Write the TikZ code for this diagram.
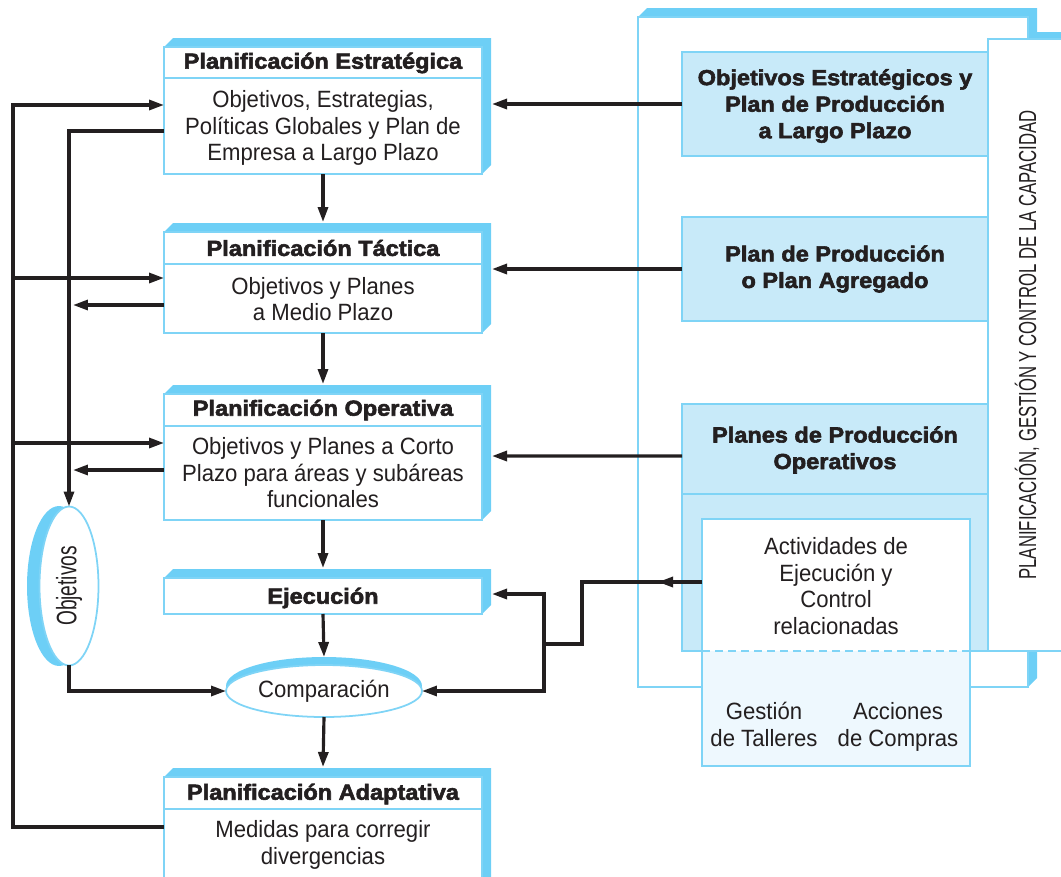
\documentclass[tikz,border=0pt]{standalone}
\usepackage{fontspec}
\setmainfont[FakeStretch=0.94]{Liberation Sans}
\newfontfamily\negrita[FakeStretch=1.08,BoldFeatures={FakeBold=2.6}]{Liberation Sans}
\newfontfamily\estrecha[FakeStretch=0.68]{Liberation Sans}
\usetikzlibrary{arrows.meta}
\usetikzlibrary{calc, fit, backgrounds}
\usetikzlibrary{shapes.geometric}
\definecolor{celeste}{HTML}{6DCFF6}
\definecolor{borde}{HTML}{7FD4F6}
\definecolor{relleno}{HTML}{C8EAF9}
\definecolor{palido}{HTML}{EEF8FE}
\definecolor{tinta}{HTML}{231F20}

% cara azul de las cajas en relieve
\newcommand{\relieve}[1]{%
	\fill[celeste] (#1.north west) -- ++(9,-9) -- ([shift={(9,-9)}]#1.north east)
	-- ([shift={(9,-9)}]#1.south east) -- (#1.south east) -- cycle;}

\begin{document}
\begin{tikzpicture}[x=0.02cm, y=-0.02cm,
	frente/.style={draw=borde, fill=white, line width=1pt, inner sep=0pt, outer sep=0pt},
	caja/.style={draw=borde, fill=relleno, line width=1pt, inner sep=0pt, outer sep=0pt},
	raya/.style={draw=borde, line width=1pt},
	titulo/.style={font=\negrita\bfseries\fontsize{12.4}{15.1}\selectfont, text=tinta, align=center},
	texto/.style={font=\fontsize{13.4}{15.1}\selectfont, text=tinta, align=center},
	linea/.style={draw=tinta, line width=1.8pt},
	flecha/.style={linea, -{Triangle[length=0.3cm,width=0.2cm]}}]
	\useasboundingbox (0,0) rectangle (1061,876);
	\clip (0,0) rectangle (1061,876);
	
	% panel de la derecha
	\fill[celeste] (638,17) -- (647,8) -- (1037,8) -- (1037,678) -- (1028,687) -- cycle;
	\fill[celeste] (988,39) -- (995,32) -- (1080,32) -- (1080,39) -- cycle;
	\draw[frente] (638,17) rectangle (1028,687);
	\draw[frente] (988,39) rectangle (1075,651);
	\node[rotate=90, font=\estrecha\fontsize{14}{16}\selectfont, text=tinta] (capac) at (1027,345)
	{PLANIFICACIÓN, GESTIÓN Y CONTROL DE LA CAPACIDAD};
	
	\node[caja, fit={(682,52) (988,156)}] (ra) {};
	\node[titulo] (raT) at (835,106) {Objetivos Estratégicos y\\Plan de Producción\\a Largo Plazo};
	\node[caja, fit={(682,217) (988,321)}] (rb) {};
	\node[titulo] (rbT) at (835,269) {Plan de Producción\\o Plan Agregado};
	\draw[caja] (682,404) rectangle (988,651);
	\node[caja, fit={(682,404) (988,494)}] (rc) {};
	\node[titulo] (rcT) at (835,450) {Planes de Producción\\Operativos};
	
	\node[frente, fit={(702,519) (970,766)}] (act) {};
	\fill[palido] (act.west |- 0,651) rectangle (act.south east);
	\draw[raya] (act.north west) rectangle (act.south east);
	\draw[raya, dash pattern=on 0.16cm off 0.1cm] (act.west |- 0,651) -- (act.east |- 0,651);
	\node[texto] (actT) at (836,586) {Actividades de\\Ejecución y\\Control\\relacionadas};
	\node[texto] (talleres) at (764,727) {Gestión\\de Talleres\vphantom{p}};
	\node[texto] (compras) at (898,727) {Acciones\vphantom{ó}\\de Compras};
	
	% columna de la izquierda
	\node[frente, fit={(164,47) (482,174)}] (est) {};
	\draw[raya] (est.west |- 0,78) -- (est.east |- 0,78);
	\node[titulo] (estT) at (323,63) {Planificación Estratégica};
	\node[texto] (estC) at (323,128) {Objetivos, Estrategias,\\Políticas Globales y Plan de\\Empresa a Largo Plazo};
	
	\node[frente, fit={(164,232) (482,333)}] (tac) {};
	\draw[raya] (tac.west |- 0,264) -- (tac.east |- 0,264);
	\node[titulo] (tacT) at (323,248) {Planificación Táctica};
	\node[texto] (tacC) at (323,299) {Objetivos y Planes\\a Medio Plazo};
	
	\node[frente, fit={(164,394) (482,520)}] (ope) {};
	\draw[raya] (ope.west |- 0,426) -- (ope.east |- 0,426);
	\node[titulo] (opeT) at (323,410) {Planificación Operativa};
	\node[texto] (opeC) at (323,473) {Objetivos y Planes a Corto\\Plazo para áreas y subáreas\\funcionales};
	
	\node[frente, fit={(164,578) (482,614)}] (eje) {};
	\node[titulo] (ejeT) at (323,598) {Ejecución};
	
	\node[ellipse, draw=borde, fill=white, line width=1pt, minimum width=3.92cm, minimum height=1.04cm,
	inner sep=0pt, outer sep=0pt, font=\fontsize{13.4}{15.1}\selectfont, text=tinta] (comp) at (324,691) {Comparación};
	
	\node[ellipse, draw=borde, fill=white, line width=1pt, minimum width=1.18cm, minimum height=3.18cm,
	inner sep=0pt, outer sep=0pt, font=\estrecha\fontsize{16}{16}\selectfont, text=tinta] (obj) at (69,586) {\rotatebox{90}{Objetivos}};
	
	\node[frente, fit={(164,777) (482,890)}] (ada) {};
	\draw[raya] (ada.west |- 0,809) -- (ada.east |- 0,809);
	\node[titulo] (adaT) at (323,794) {Planificación Adaptativa};
	\node[texto] (adaC) at (323,845) {Medidas para corregir\\divergencias};
	
	\begin{pgfonlayer}{background}
		\clip (0,0) rectangle (1061,876);
		\foreach \c in {est,tac,ope,eje,ada}
		\relieve{\c};
		\fill[celeste] ([yshift=0.1cm]comp.center) ellipse [x radius=1.96cm, y radius=0.58cm];
		\fill[celeste] ([xshift=-0.2cm]obj.center) ellipse [x radius=0.64cm, y radius=1.6cm];
	\end{pgfonlayer}
	
	% flechas centrales
	\draw[flecha] (est.south) -- ([yshift=0.2cm]tac.north);
	\draw[flecha] (tac.south) -- ([yshift=0.2cm]ope.north);
	\draw[flecha] (ope.south) -- ([yshift=0.2cm]eje.north);
	\draw[flecha] (eje.south) -- ([yshift=0.16cm]comp.north);
	\draw[flecha] (comp.south) -- ([yshift=0.2cm]ada.north);
	
	% desde el panel derecho
	\draw[flecha] (ra.west) -- ($(est.east |- ra.west)+(10,0)$);
	\draw[flecha] (rb.west) -- ($(tac.east |- rb.west)+(10,0)$);
	\draw[flecha] ([yshift=-0.14cm]rc.west) -- ($(ope.east |- 0,456)+(10,0)$);
	\coordinate (nudo) at (544,644);
	\draw[flecha] (act.west |- 0,582) -- ++(-44,0);
	\draw[linea] (act.west |- 0,582) -- ++(-120,0) |- (nudo);
	\draw[flecha] (nudo) |- ($(eje.east)+(10,-2)$);
	\draw[flecha] (nudo) |- (comp.east);
	
	% lazos de la izquierda
	\coordinate (lazo) at (13,105);
	\draw[flecha] (ada.west |- 0,827) -| (lazo) -- (lazo -| est.west);
	\draw[flecha] (lazo |- 0,278) -- (tac.west |- 0,278);
	\draw[flecha] (lazo |- 0,443) -- (ope.west |- 0,443);
	\draw[flecha] (est.west |- 0,131) -| (obj.north);
	\draw[flecha] (tac.west |- 0,305) -- ($(obj.north |- 0,305)+(4,0)$);
	\draw[flecha] (ope.west |- 0,470) -- ($(obj.north |- 0,470)+(4,0)$);
	\draw[flecha] (obj.south) |- (comp.west);
\end{tikzpicture}
\end{document}
